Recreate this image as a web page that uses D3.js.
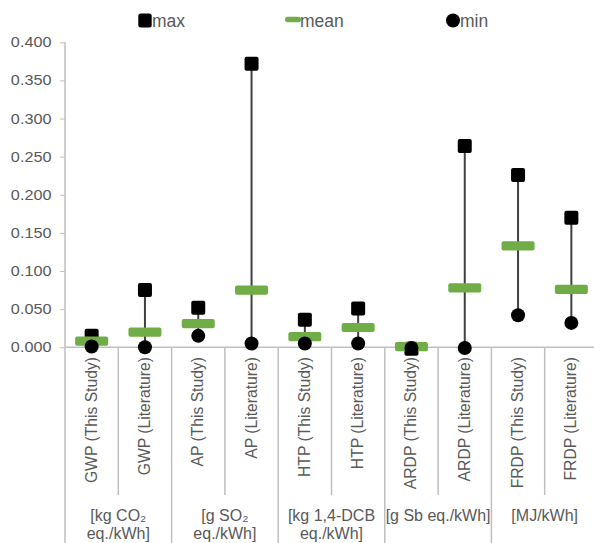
<!DOCTYPE html>
<html>
<head>
<meta charset="utf-8">
<script src="https://cdn.jsdelivr.net/npm/d3@7"></script>
<style>
  body { margin: 0; background: #fff; }
  svg { display: block; font-family: "Liberation Sans", Arial, sans-serif; }
</style>
</head>
<body>
<svg id="chart" width="594" height="543"></svg>
<script>
// Impact categories and their min / mean / max per functional unit
const categories = [
  "GWP (This Study)", "GWP (Literature)",
  "AP (This Study)", "AP (Literature)",
  "HTP (This Study)", "HTP (Literature)",
  "ARDP (This Study)", "ARDP (Literature)",
  "FRDP (This Study)", "FRDP (Literature)"
];
const maxValues  = [0.015, 0.075, 0.052, 0.372, 0.036, 0.051, -0.002, 0.264, 0.226, 0.170];
const meanValues = [0.008, 0.020, 0.031, 0.075, 0.014, 0.026, 0.001, 0.078, 0.133, 0.076];
const minValues  = [0.001, 0.000, 0.015, 0.005, 0.005, 0.005, -0.001, -0.001, 0.042, 0.032];
// Unit groups, each spanning two categories
const unitGroups = [
  ["[kg CO\u2082", "eq./kWh]"],
  ["[g SO\u2082", "eq./kWh]"],
  ["[kg 1,4-DCB", "eq./kWh]"],
  ["[g Sb eq./kWh]"],
  ["[MJ/kWh]"]
];
const yTicks = [0, 0.05, 0.1, 0.15, 0.2, 0.25, 0.3, 0.35, 0.4];
const legendItems = ["max", "mean", "min"];

const svg = d3.select("#chart");
const plotLeft = 65, plotRight = 598, plotTop = 42.3, zeroY = 347.3;
const textColor = "#595959", axisColor = "#bfbfbf";
const tickStretch = 1.16;

const x = d3.scaleBand().domain(categories).range([plotLeft, plotRight]).padding(0);
const y = d3.scaleLinear().domain([0, 0.4]).range([zeroY, plotTop]);
const groupX = d3.scaleBand().domain(d3.range(unitGroups.length)).range([plotLeft, plotRight]).padding(0);

// Y axis
const yAxis = svg.append("g")
  .attr("transform", `translate(${plotLeft},0)`)
  .call(d3.axisLeft(y).tickValues(yTicks).tickFormat(d3.format(".3f")).tickSize(5).tickSizeOuter(0));
yAxis.select(".domain").remove();
yAxis.selectAll(".tick line").attr("stroke", axisColor).attr("stroke-width", 1);
yAxis.selectAll(".tick text")
  .attr("fill", textColor).attr("font-size", 14)
  .attr("x", -13.5 / tickStretch)
  .attr("transform", `scale(${tickStretch},1)`)
  .attr("font-family", "'Liberation Sans', Arial, sans-serif");

// Axis lines and category separators
svg.append("line").attr("x1", plotLeft).attr("x2", plotLeft).attr("y1", plotTop).attr("y2", 543)
  .attr("stroke", axisColor).attr("stroke-width", 1.5);
svg.append("line").attr("x1", plotLeft).attr("x2", plotRight).attr("y1", zeroY).attr("y2", zeroY)
  .attr("stroke", axisColor).attr("stroke-width", 1.5);
categories.forEach((c, i) => {
  if (i === 0) return;
  const xx = x(c);
  svg.append("line").attr("x1", xx).attr("x2", xx)
    .attr("y1", zeroY).attr("y2", i % 2 === 0 ? 543 : 495)
    .attr("stroke", axisColor).attr("stroke-width", 1.5);
});

// Rotated category labels
svg.append("g").selectAll("text").data(categories).join("text")
  .attr("transform", d => `translate(${x(d) + x.bandwidth() / 2 + 5},357) rotate(-90)`)
  .attr("text-anchor", "end")
  .attr("fill", textColor).attr("font-size", 15.7)
  .text(d => d);

// Unit labels under each group
unitGroups.forEach((lines, g) => {
  const cx = groupX(g) + groupX.bandwidth() / 2;
  lines.forEach((t, k) => {
    svg.append("text").attr("x", cx).attr("y", 520.5 + k * 18)
      .attr("text-anchor", "middle").attr("fill", textColor).attr("font-size", 16)
      .text(t);
  });
});

// Whiskers from min to max
const data = categories.map((c, i) => ({ c, max: maxValues[i], mean: meanValues[i], min: minValues[i] }));
const cxOf = d => x(d.c) + x.bandwidth() / 2;
svg.append("g").selectAll("line").data(data).join("line")
  .attr("x1", cxOf).attr("x2", cxOf)
  .attr("y1", d => y(d.min)).attr("y2", d => y(d.max))
  .attr("stroke", "#404040").attr("stroke-width", 2);

// Max markers (squares)
svg.append("g").selectAll("rect").data(data).join("rect")
  .attr("x", d => cxOf(d) - 7).attr("y", d => y(d.max) - 7)
  .attr("width", 14).attr("height", 14).attr("rx", 2)
  .attr("fill", "#000");

// Mean markers (green bars)
svg.append("g").selectAll("rect").data(data).join("rect")
  .attr("x", d => cxOf(d) - 16.5).attr("y", d => y(d.mean) - 4.6)
  .attr("width", 33).attr("height", 9.2).attr("rx", 2)
  .attr("fill", "#70ad47");

// Min markers (circles)
svg.append("g").selectAll("circle").data(data).join("circle")
  .attr("cx", cxOf).attr("cy", d => y(d.min)).attr("r", 7)
  .attr("fill", "#000");

// Legend
const legendX = [145, 293, 453];
const lg = svg.append("g");
legendItems.forEach((name, i) => {
  const lx = legendX[i], ly = 20.5;
  if (name === "max") {
    lg.append("rect").attr("x", lx - 6.7).attr("y", ly - 7).attr("width", 13.4).attr("height", 14).attr("rx", 2.5).attr("fill", "#000");
  } else if (name === "mean") {
    lg.append("rect").attr("x", lx - 8).attr("y", ly - 3.8).attr("width", 16).attr("height", 5.6).attr("rx", 2.8).attr("fill", "#70ad47");
  } else {
    lg.append("circle").attr("cx", lx).attr("cy", ly).attr("r", 7).attr("fill", "#000");
  }
  lg.append("text").attr("x", lx + 7).attr("y", 26.7)
    .attr("fill", textColor).attr("font-size", 17.5).text(name);
});
</script>
</body>
</html>
